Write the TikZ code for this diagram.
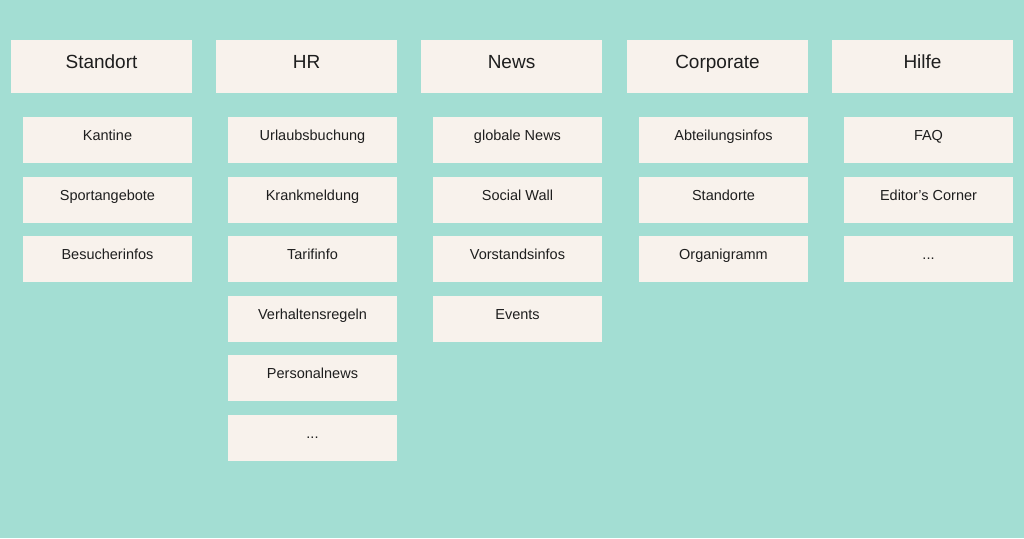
\documentclass[tikz,border=0pt]{standalone}
\usepackage{fontspec}
\setmainfont{Liberation Sans}
\definecolor{bgteal}{HTML}{A3DED3}
\definecolor{boxcream}{HTML}{F8F2EC}
\definecolor{inktext}{HTML}{1E1E1E}
\begin{document}
\begin{tikzpicture}[x=1pt,y=1pt,yscale=-1,xscale=1,
    head/.style={fill=boxcream, text=inktext, inner sep=0pt, outer sep=0pt,
        minimum width=181pt, minimum height=53pt, text height=10pt, text depth=6.8pt,
        font=\fontsize{19}{22}\selectfont},
    item/.style={fill=boxcream, text=inktext, inner sep=0pt, outer sep=0pt,
        minimum width=169pt, minimum height=46pt, text height=8pt, text depth=6.6pt,
        font=\fontsize{14.5}{17}\selectfont}]
    %Background
    \useasboundingbox (0,0) rectangle (1024,538);
    \fill [bgteal] (0,0) rectangle (1024,538);

    %Column: Standort
    \node [head] (standort) at (101.5,66.5) {Standort};
    \node [item] (kantine) at (107.5,140) {Kantine};
    \node [item] (sport) at (107.5,200) {Sportangebote};
    \node [item] (besucher) at (107.5,259) {Besucherinfos};

    %Column: HR
    \node [head] (hr) at (306.5,66.5) {HR};
    \node [item] (urlaub) at (312.5,140) {Urlaubsbuchung};
    \node [item] (krank) at (312.5,200) {Krankmeldung};
    \node [item] (tarif) at (312.5,259) {Tarifinfo};
    \node [item] (regeln) at (312.5,319) {Verhaltensregeln};
    \node [item] (personal) at (312.5,378) {Personalnews};
    \node [item] (hrmore) at (312.5,438) {...};

    %Column: News
    \node [head] (news) at (511.5,66.5) {News};
    \node [item] (globalnews) at (517.5,140) {globale News};
    \node [item] (social) at (517.5,200) {Social Wall};
    \node [item] (vorstand) at (517.5,259) {Vorstandsinfos};
    \node [item] (events) at (517.5,319) {Events};

    %Column: Corporate
    \node [head] (corporate) at (717.5,66.5) {Corporate};
    \node [item] (abteilung) at (723.5,140) {Abteilungsinfos};
    \node [item] (standorte) at (723.5,200) {Standorte};
    \node [item] (organi) at (723.5,259) {Organigramm};

    %Column: Hilfe
    \node [head] (hilfe) at (922.5,66.5) {Hilfe};
    \node [item] (faq) at (928.5,140) {FAQ};
    \node [item] (editor) at (928.5,200) {Editor’s Corner};
    \node [item] (hilfemore) at (928.5,259) {...};
\end{tikzpicture}
\end{document}
